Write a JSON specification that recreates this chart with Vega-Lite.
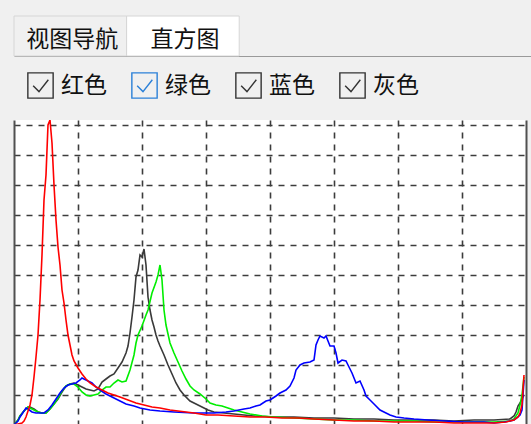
{
  "$schema": "https://vega.github.io/schema/vega-lite/v6.json",
  "background": "#f0f0f0",
  "padding": {"left": 13, "top": 15, "right": 0, "bottom": 2},
  "spacing": 15,
  "config": {"view": {"stroke": null}, "font": "Noto Sans CJK SC"},
  "resolve": {"scale": {"stroke": "independent"}, "legend": {"stroke": "independent"}},
  "vconcat": [
    {
      "width": 518,
      "height": 40,
      "view": {"stroke": null},
      "data": {"values": [{"tab": "视图导航", "state": "normal"}, {"tab": "直方图", "state": "selected"}]},
      "encoding": {
        "x": {"field": "tab", "type": "nominal", "sort": null,
          "scale": {"domain": ["视图导航", "直方图", " "], "paddingInner": 0, "paddingOuter": 0.8, "align": 0},
          "axis": {"orient": "bottom", "domain": true, "domainColor": "#9a9a9a", "domainWidth": 1, "ticks": false, "labels": false, "title": null, "grid": false}}
      },
      "layer": [
        {"mark": {"type": "bar", "stroke": "#d6d6d6", "strokeWidth": 1},
         "encoding": {"fill": {"field": "state", "type": "nominal", "scale": {"domain": ["normal", "selected"], "range": ["#f0f0f0", "#ffffff"]}, "legend": null}}},
        {"mark": {"type": "text", "font": "Noto Sans CJK SC", "fontSize": 23, "color": "#111111", "dx": 2, "dy": 4},
         "encoding": {"text": {"field": "tab"}}}
      ]
    },
    {
      "width": 512,
      "height": 305,
      "view": {"fill": "#ffffff", "stroke": null},
      "layer": [
        {
          "data": {"values": [
            {"channel":"灰色","bin":0,"count":0},{"channel":"灰色","bin":2,"count":5},{"channel":"灰色","bin":3,"count":9},{"channel":"灰色","bin":5,"count":14},{"channel":"灰色","bin":7,"count":18},{"channel":"灰色","bin":8,"count":18},{"channel":"灰色","bin":10,"count":16},{"channel":"灰色","bin":12,"count":13},{"channel":"灰色","bin":14,"count":12},{"channel":"灰色","bin":16,"count":12},{"channel":"灰色","bin":18,"count":16},{"channel":"灰色","bin":20,"count":21},{"channel":"灰色","bin":22,"count":26},{"channel":"灰色","bin":24,"count":33},{"channel":"灰色","bin":26,"count":39},{"channel":"灰色","bin":28,"count":41},{"channel":"灰色","bin":30,"count":42},{"channel":"灰色","bin":32,"count":40},{"channel":"灰色","bin":34,"count":38},{"channel":"灰色","bin":36,"count":36},{"channel":"灰色","bin":38,"count":35},{"channel":"灰色","bin":40,"count":34},{"channel":"灰色","bin":42,"count":36},{"channel":"灰色","bin":44,"count":43},{"channel":"灰色","bin":46,"count":46},{"channel":"灰色","bin":48,"count":49},{"channel":"灰色","bin":50,"count":51},{"channel":"灰色","bin":52,"count":57},{"channel":"灰色","bin":54,"count":63},{"channel":"灰色","bin":56,"count":72},{"channel":"灰色","bin":57,"count":79},{"channel":"灰色","bin":58,"count":92},{"channel":"灰色","bin":59,"count":108},{"channel":"灰色","bin":60,"count":125},{"channel":"灰色","bin":61,"count":148},{"channel":"灰色","bin":62,"count":155},{"channel":"灰色","bin":63,"count":170},{"channel":"灰色","bin":64,"count":168},{"channel":"灰色","bin":65,"count":176},{"channel":"灰色","bin":66,"count":160},{"channel":"灰色","bin":67,"count":128},{"channel":"灰色","bin":68,"count":115},{"channel":"灰色","bin":69,"count":105},{"channel":"灰色","bin":70,"count":98},{"channel":"灰色","bin":71,"count":90},{"channel":"灰色","bin":72,"count":84},{"channel":"灰色","bin":73,"count":79},{"channel":"灰色","bin":75,"count":70},{"channel":"灰色","bin":77,"count":60},{"channel":"灰色","bin":79,"count":51},{"channel":"灰色","bin":81,"count":42},{"channel":"灰色","bin":83,"count":35},{"channel":"灰色","bin":85,"count":30},{"channel":"灰色","bin":88,"count":24},{"channel":"灰色","bin":91,"count":21},{"channel":"灰色","bin":94,"count":18},{"channel":"灰色","bin":97,"count":15},{"channel":"灰色","bin":100,"count":13},{"channel":"灰色","bin":105,"count":12},{"channel":"灰色","bin":110,"count":11},{"channel":"灰色","bin":115,"count":10},{"channel":"灰色","bin":120,"count":9},{"channel":"灰色","bin":130,"count":8},{"channel":"灰色","bin":140,"count":8},{"channel":"灰色","bin":150,"count":7},{"channel":"灰色","bin":160,"count":7},{"channel":"灰色","bin":170,"count":6},{"channel":"灰色","bin":180,"count":6},{"channel":"灰色","bin":190,"count":5},{"channel":"灰色","bin":200,"count":5},{"channel":"灰色","bin":210,"count":5},{"channel":"灰色","bin":220,"count":4},{"channel":"灰色","bin":230,"count":5},{"channel":"灰色","bin":240,"count":5},{"channel":"灰色","bin":248,"count":6},{"channel":"灰色","bin":250,"count":9},{"channel":"灰色","bin":251,"count":13},{"channel":"灰色","bin":252,"count":19},{"channel":"灰色","bin":253,"count":22},{"channel":"灰色","bin":254,"count":26},{"channel":"灰色","bin":255,"count":30},
            {"channel":"绿色","bin":0,"count":0},{"channel":"绿色","bin":2,"count":5},{"channel":"绿色","bin":3,"count":9},{"channel":"绿色","bin":5,"count":14},{"channel":"绿色","bin":7,"count":18},{"channel":"绿色","bin":8,"count":17},{"channel":"绿色","bin":10,"count":15},{"channel":"绿色","bin":12,"count":13},{"channel":"绿色","bin":14,"count":12},{"channel":"绿色","bin":16,"count":12},{"channel":"绿色","bin":18,"count":16},{"channel":"绿色","bin":20,"count":21},{"channel":"绿色","bin":22,"count":27},{"channel":"绿色","bin":24,"count":34},{"channel":"绿色","bin":26,"count":39},{"channel":"绿色","bin":28,"count":41},{"channel":"绿色","bin":30,"count":41},{"channel":"绿色","bin":32,"count":38},{"channel":"绿色","bin":34,"count":33},{"channel":"绿色","bin":36,"count":30},{"channel":"绿色","bin":38,"count":29},{"channel":"绿色","bin":40,"count":30},{"channel":"绿色","bin":42,"count":31},{"channel":"绿色","bin":44,"count":35},{"channel":"绿色","bin":46,"count":38},{"channel":"绿色","bin":48,"count":38},{"channel":"绿色","bin":50,"count":42},{"channel":"绿色","bin":52,"count":45},{"channel":"绿色","bin":54,"count":43},{"channel":"绿色","bin":56,"count":44},{"channel":"绿色","bin":58,"count":55},{"channel":"绿色","bin":60,"count":70},{"channel":"绿色","bin":61,"count":82},{"channel":"绿色","bin":62,"count":90},{"channel":"绿色","bin":64,"count":99},{"channel":"绿色","bin":66,"count":110},{"channel":"绿色","bin":67,"count":115},{"channel":"绿色","bin":69,"count":132},{"channel":"绿色","bin":71,"count":143},{"channel":"绿色","bin":72,"count":150},{"channel":"绿色","bin":73,"count":160},{"channel":"绿色","bin":74,"count":145},{"channel":"绿色","bin":75,"count":115},{"channel":"绿色","bin":76,"count":100},{"channel":"绿色","bin":78,"count":82},{"channel":"绿色","bin":80,"count":72},{"channel":"绿色","bin":82,"count":63},{"channel":"绿色","bin":84,"count":54},{"channel":"绿色","bin":86,"count":46},{"channel":"绿色","bin":88,"count":39},{"channel":"绿色","bin":90,"count":35},{"channel":"绿色","bin":93,"count":31},{"channel":"绿色","bin":96,"count":26},{"channel":"绿色","bin":98,"count":22},{"channel":"绿色","bin":101,"count":20},{"channel":"绿色","bin":104,"count":19},{"channel":"绿色","bin":107,"count":17},{"channel":"绿色","bin":110,"count":15},{"channel":"绿色","bin":114,"count":13},{"channel":"绿色","bin":118,"count":11},{"channel":"绿色","bin":124,"count":9},{"channel":"绿色","bin":130,"count":8},{"channel":"绿色","bin":140,"count":7},{"channel":"绿色","bin":150,"count":6},{"channel":"绿色","bin":160,"count":5},{"channel":"绿色","bin":170,"count":5},{"channel":"绿色","bin":180,"count":4},{"channel":"绿色","bin":190,"count":4},{"channel":"绿色","bin":200,"count":4},{"channel":"绿色","bin":210,"count":3},{"channel":"绿色","bin":220,"count":3},{"channel":"绿色","bin":230,"count":3},{"channel":"绿色","bin":240,"count":3},{"channel":"绿色","bin":248,"count":4},{"channel":"绿色","bin":250,"count":6},{"channel":"绿色","bin":252,"count":12},{"channel":"绿色","bin":253,"count":20},{"channel":"绿色","bin":254,"count":30},{"channel":"绿色","bin":255,"count":48},
            {"channel":"蓝色","bin":0,"count":0},{"channel":"蓝色","bin":1,"count":2},{"channel":"蓝色","bin":2,"count":4},{"channel":"蓝色","bin":3,"count":8},{"channel":"蓝色","bin":5,"count":14},{"channel":"蓝色","bin":6,"count":17},{"channel":"蓝色","bin":7,"count":16},{"channel":"蓝色","bin":9,"count":13},{"channel":"蓝色","bin":11,"count":12},{"channel":"蓝色","bin":13,"count":12},{"channel":"蓝色","bin":15,"count":12},{"channel":"蓝色","bin":17,"count":15},{"channel":"蓝色","bin":19,"count":20},{"channel":"蓝色","bin":21,"count":26},{"channel":"蓝色","bin":23,"count":32},{"channel":"蓝色","bin":25,"count":37},{"channel":"蓝色","bin":27,"count":40},{"channel":"蓝色","bin":29,"count":41},{"channel":"蓝色","bin":31,"count":42},{"channel":"蓝色","bin":33,"count":45},{"channel":"蓝色","bin":34,"count":47},{"channel":"蓝色","bin":35,"count":46},{"channel":"蓝色","bin":37,"count":44},{"channel":"蓝色","bin":39,"count":42},{"channel":"蓝色","bin":41,"count":38},{"channel":"蓝色","bin":43,"count":35},{"channel":"蓝色","bin":46,"count":31},{"channel":"蓝色","bin":48,"count":29},{"channel":"蓝色","bin":51,"count":26},{"channel":"蓝色","bin":53,"count":24},{"channel":"蓝色","bin":56,"count":21},{"channel":"蓝色","bin":60,"count":19},{"channel":"蓝色","bin":63,"count":17},{"channel":"蓝色","bin":68,"count":15},{"channel":"蓝色","bin":73,"count":14},{"channel":"蓝色","bin":80,"count":13},{"channel":"蓝色","bin":90,"count":12},{"channel":"蓝色","bin":100,"count":12},{"channel":"蓝色","bin":106,"count":13},{"channel":"蓝色","bin":110,"count":14},{"channel":"蓝色","bin":115,"count":16},{"channel":"蓝色","bin":118,"count":17},{"channel":"蓝色","bin":121,"count":19},{"channel":"蓝色","bin":123,"count":20},{"channel":"蓝色","bin":126,"count":24},{"channel":"蓝色","bin":128,"count":25},{"channel":"蓝色","bin":131,"count":29},{"channel":"蓝色","bin":133,"count":32},{"channel":"蓝色","bin":136,"count":35},{"channel":"蓝色","bin":138,"count":39},{"channel":"蓝色","bin":140,"count":47},{"channel":"蓝色","bin":141,"count":55},{"channel":"蓝色","bin":143,"count":60},{"channel":"蓝色","bin":145,"count":62},{"channel":"蓝色","bin":148,"count":63},{"channel":"蓝色","bin":150,"count":65},{"channel":"蓝色","bin":151,"count":80},{"channel":"蓝色","bin":152,"count":85},{"channel":"蓝色","bin":153,"count":89},{"channel":"蓝色","bin":155,"count":87},{"channel":"蓝色","bin":156,"count":89},{"channel":"蓝色","bin":157,"count":84},{"channel":"蓝色","bin":158,"count":79},{"channel":"蓝色","bin":160,"count":79},{"channel":"蓝色","bin":161,"count":72},{"channel":"蓝色","bin":162,"count":62},{"channel":"蓝色","bin":164,"count":65},{"channel":"蓝色","bin":166,"count":64},{"channel":"蓝色","bin":167,"count":60},{"channel":"蓝色","bin":169,"count":52},{"channel":"蓝色","bin":171,"count":42},{"channel":"蓝色","bin":173,"count":44},{"channel":"蓝色","bin":175,"count":35},{"channel":"蓝色","bin":176,"count":29},{"channel":"蓝色","bin":178,"count":25},{"channel":"蓝色","bin":180,"count":21},{"channel":"蓝色","bin":183,"count":15},{"channel":"蓝色","bin":186,"count":12},{"channel":"蓝色","bin":188,"count":10},{"channel":"蓝色","bin":191,"count":8},{"channel":"蓝色","bin":195,"count":7},{"channel":"蓝色","bin":200,"count":6},{"channel":"蓝色","bin":207,"count":5},{"channel":"蓝色","bin":215,"count":4},{"channel":"蓝色","bin":225,"count":3},{"channel":"蓝色","bin":235,"count":3},{"channel":"蓝色","bin":240,"count":2},{"channel":"蓝色","bin":245,"count":3},{"channel":"蓝色","bin":248,"count":4},{"channel":"蓝色","bin":250,"count":5},{"channel":"蓝色","bin":252,"count":8},{"channel":"蓝色","bin":253,"count":10},{"channel":"蓝色","bin":254,"count":15},{"channel":"蓝色","bin":255,"count":45},
            {"channel":"红色","bin":0,"count":0},{"channel":"红色","bin":2,"count":1},{"channel":"红色","bin":4,"count":2},{"channel":"红色","bin":5,"count":4},{"channel":"红色","bin":6,"count":8},{"channel":"红色","bin":7,"count":14},{"channel":"红色","bin":8,"count":20},{"channel":"红色","bin":9,"count":30},{"channel":"红色","bin":10,"count":48},{"channel":"红色","bin":11,"count":68},{"channel":"红色","bin":12,"count":90},{"channel":"红色","bin":13,"count":125},{"channel":"红色","bin":14,"count":170},{"channel":"红色","bin":15,"count":225},{"channel":"红色","bin":16,"count":250},{"channel":"红色","bin":17,"count":300},{"channel":"红色","bin":18,"count":305},{"channel":"红色","bin":19,"count":282},{"channel":"红色","bin":20,"count":240},{"channel":"红色","bin":21,"count":205},{"channel":"红色","bin":22,"count":178},{"channel":"红色","bin":23,"count":160},{"channel":"红色","bin":24,"count":135},{"channel":"红色","bin":25,"count":122},{"channel":"红色","bin":26,"count":105},{"channel":"红色","bin":27,"count":90},{"channel":"红色","bin":28,"count":80},{"channel":"红色","bin":29,"count":70},{"channel":"红色","bin":30,"count":64},{"channel":"红色","bin":32,"count":57},{"channel":"红色","bin":34,"count":51},{"channel":"红色","bin":36,"count":46},{"channel":"红色","bin":38,"count":42},{"channel":"红色","bin":41,"count":38},{"channel":"红色","bin":44,"count":35},{"channel":"红色","bin":47,"count":32},{"channel":"红色","bin":50,"count":30},{"channel":"红色","bin":53,"count":28},{"channel":"红色","bin":57,"count":25},{"channel":"红色","bin":61,"count":22},{"channel":"红色","bin":65,"count":20},{"channel":"红色","bin":69,"count":18},{"channel":"红色","bin":73,"count":17},{"channel":"红色","bin":78,"count":15},{"channel":"红色","bin":82,"count":14},{"channel":"红色","bin":86,"count":13},{"channel":"红色","bin":90,"count":12},{"channel":"红色","bin":96,"count":10},{"channel":"红色","bin":102,"count":10},{"channel":"红色","bin":110,"count":9},{"channel":"红色","bin":118,"count":8},{"channel":"红色","bin":126,"count":8},{"channel":"红色","bin":134,"count":7},{"channel":"红色","bin":142,"count":7},{"channel":"红色","bin":150,"count":6},{"channel":"红色","bin":160,"count":5},{"channel":"红色","bin":170,"count":4},{"channel":"红色","bin":180,"count":4},{"channel":"红色","bin":190,"count":3},{"channel":"红色","bin":200,"count":3},{"channel":"红色","bin":210,"count":3},{"channel":"红色","bin":220,"count":2},{"channel":"红色","bin":230,"count":2},{"channel":"红色","bin":240,"count":2},{"channel":"红色","bin":246,"count":3},{"channel":"红色","bin":250,"count":5},{"channel":"红色","bin":252,"count":8},{"channel":"红色","bin":253,"count":12},{"channel":"红色","bin":254,"count":20},{"channel":"红色","bin":255,"count":50}
          ]},
          "mark": {"type": "line", "strokeWidth": 1.6, "clip": true},
          "encoding": {
            "x": {"field": "bin", "type": "quantitative",
              "scale": {"domain": [0, 256], "nice": false, "zero": false},
              "axis": {"values": [32, 64, 96, 128, 160, 192, 224], "grid": true, "gridDash": [6, 6], "gridColor": "#3c3c3c", "gridWidth": 1.6,
                "domain": true, "domainColor": "#505050", "domainWidth": 2, "ticks": false, "labels": false, "title": null}},
            "y": {"field": "count", "type": "quantitative",
              "scale": {"domain": [0, 305], "nice": false},
              "axis": {"orient": "left", "values": [30, 60, 90, 120, 150, 180, 210, 240, 270, 300], "grid": true, "gridDash": [6, 6], "gridColor": "#3c3c3c", "gridWidth": 1.6,
                "domain": true, "domainColor": "#505050", "domainWidth": 2, "ticks": false, "labels": false, "title": null}},
            "color": {"field": "channel", "type": "nominal",
              "scale": {"domain": ["红色", "绿色", "蓝色", "灰色"], "range": ["#ff0000", "#00ee00", "#0000ff", "#3a3a3a"]},
              "legend": null}
          }
        },
        {
          "data": {"values": [{"channel": "红色"}, {"channel": "绿色"}, {"channel": "蓝色"}, {"channel": "灰色"}]},
          "transform": [{"filter": "datum.channel === '无'"}],
          "mark": {"type": "point", "filled": false, "opacity": 1},
          "encoding": {
            "stroke": {"field": "channel", "type": "nominal",
              "scale": {"domain": ["红色", "绿色", "蓝色", "灰色"], "range": ["#333333", "#2b80d8", "#333333", "#333333"]},
              "legend": {"title": null, "orient": "none", "legendX": 13, "legendY": -48, "direction": "horizontal",
                "symbolType": "M-1,-1H1V1H-1Z M-0.58,0.02L-0.12,0.48L0.62,-0.46", "symbolSize": 640, "symbolStrokeWidth": 1.4,
                "symbolFillColor": "#f7f7f7", "symbolOpacity": 1,
                "labelFont": "Noto Sans CJK SC", "labelFontSize": 23, "labelColor": "#111111", "labelOffset": 7, "columnPadding": 22, "padding": 0}}
          }
        },
        {
          "data": {"values": [{}]},
          "mark": {"type": "rule", "color": "#505050", "strokeWidth": 2},
          "encoding": {
            "y": {"datum": 0, "type": "quantitative", "scale": {"domain": [0, 305], "nice": false},
              "axis": {"orient": "right", "grid": false, "ticks": false, "labels": false, "title": null, "domain": true, "domainColor": "#505050", "domainWidth": 2}}
          }
        }
      ],
      "resolve": {"scale": {"y": "independent"}, "axis": {"y": "independent"}}
    }
  ]
}
